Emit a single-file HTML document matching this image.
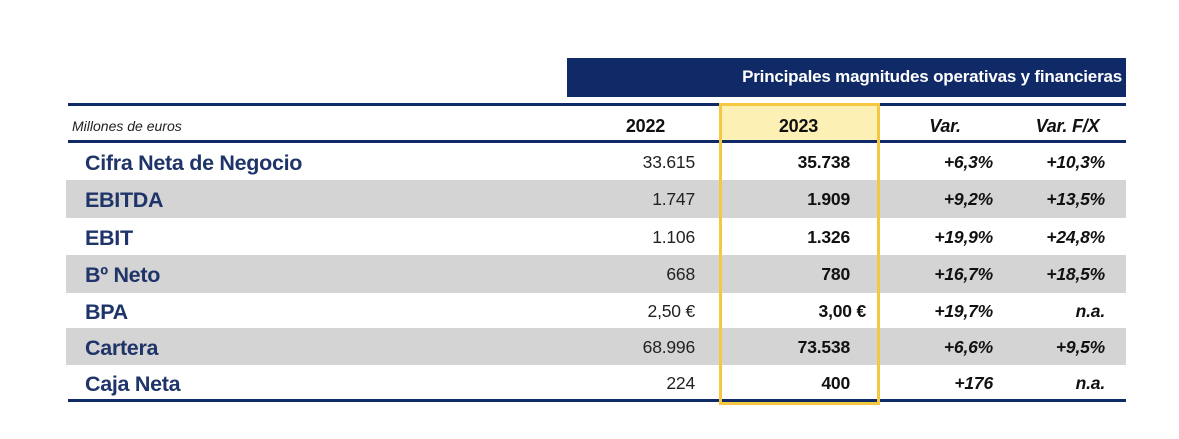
<!DOCTYPE html>
<html><head><meta charset="utf-8"><style>
body{margin:0;width:1179px;height:439px;background:#fff;position:relative;overflow:hidden;font-family:"Liberation Sans",sans-serif;}
.a{position:absolute}
.lbl{position:absolute;left:85px;font-weight:bold;color:#1f3468;font-size:21.5px;letter-spacing:-0.3px}
.n{position:absolute;font-size:17.5px;color:#222;text-align:right;letter-spacing:-0.2px}
.b{font-weight:bold;color:#111}
.i{font-style:italic;font-weight:bold;color:#111}
</style></head><body>
<div class="a" style="left:567px;top:58px;width:559px;height:39px;background:#0f2a66;"></div>
<div class="a" style="left:567px;top:67px;width:555px;text-align:right;color:#fff;font-weight:bold;font-size:17px;letter-spacing:-0.2px">Principales magnitudes operativas y financieras</div>
<div class="a" style="left:68px;top:103px;width:1058px;height:3px;background:#0f2a66"></div>
<div class="a" style="left:720px;top:104px;width:157px;height:37px;background:#fdf0b4"></div>
<div class="a" style="left:72px;top:118px;font-size:14px;font-style:italic;color:#222">Millones de euros</div>
<div class="n b" style="left:598px;width:95px;top:116px;font-size:18px;text-align:center">2022</div>
<div class="n b" style="left:750px;width:97px;top:116px;font-size:18px;text-align:center">2023</div>
<div class="n i" style="left:900px;width:90px;top:116px;font-size:18px;text-align:center">Var.</div>
<div class="n i" style="left:1020px;width:95px;top:116px;font-size:18px;text-align:center">Var. F/X</div>
<div class="a" style="left:68px;top:140px;width:1058px;height:3px;background:#0f2a66"></div>
<div id="rows"></div>
<div class="a" style="left:68px;top:399px;width:1058px;height:3px;background:#0f2a66"></div>
<div class="a" style="left:719px;top:103px;width:155px;height:296px;border:3px solid #f5c842"></div>
<script>
const labels=["Cifra Neta de Negocio","EBITDA","EBIT","Bº Neto","BPA","Cartera","Caja Neta"];
const v2022=["33.615","1.747","1.106","668","2,50 €","68.996","224"];
const v2023=["35.738","1.909","1.326","780","3,00 €","73.538","400"];
const vVar=["+6,3%","+9,2%","+19,9%","+16,7%","+19,7%","+6,6%","+176"];
const vFx=["+10,3%","+13,5%","+24,8%","+18,5%","n.a.","+9,5%","n.a."];
const tops=[143,180,218,255,293,328,365,400];
const c=document.getElementById('rows');
labels.forEach((l,k)=>{
 const t=tops[k],h=tops[k+1]-t;
 const r=document.createElement('div');r.className='a';
 
 
 r.style.cssText=`left:66px;top:${t}px;width:1060px;height:${h}px;background:${k%2?'#d4d4d4':'#fff'}`;
 c.appendChild(r);
 const ty=t+h/2-11;
 const L=document.createElement('div');L.className='lbl';L.textContent=l;L.style.top=(ty)+'px';
 
 
 c.appendChild(L);
 const cells=[[v2022[k],'n',600,95],[v2023[k],'n b',750,(k==4?116:100)],[vVar[k],'n i',880,113],[vFx[k],'n i',1000,105]];
 cells.forEach(([txt,cls,x,w])=>{const d=document.createElement('div');d.className=cls;d.textContent=txt;
  
  
  d.style.left=x+'px';d.style.width=w+'px';d.style.top=(ty+1)+'px';c.appendChild(d);});
});
</script>
</body></html>
